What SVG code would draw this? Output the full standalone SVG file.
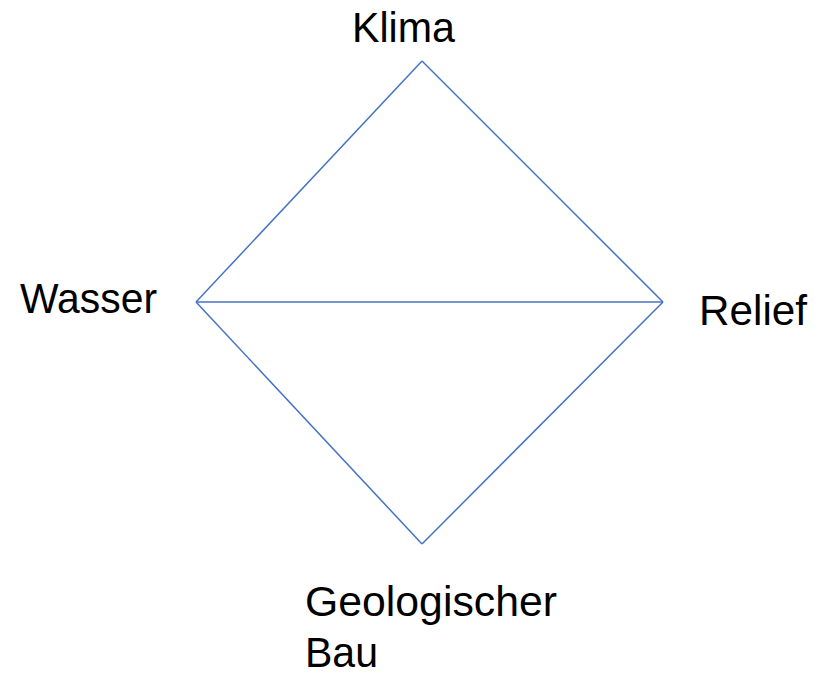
<svg xmlns="http://www.w3.org/2000/svg" width="825" height="677" viewBox="0 0 825 677">
  <style>
    .edge { stroke: #4472C4; stroke-width: 1.5; fill: none; }
    .label { font-family: "Liberation Sans", "Noto Sans", sans-serif; font-size: 43px; fill: #000000; }
  </style>
  <rect width="825" height="677" fill="#ffffff"/>
  <g id="connectors">
    <line class="edge" x1="422" y1="61" x2="196" y2="302"/>
    <line class="edge" x1="422" y1="61" x2="663" y2="302"/>
    <line class="edge" x1="196" y1="302" x2="663" y2="302"/>
    <line class="edge" x1="196" y1="302" x2="422" y2="544"/>
    <line class="edge" x1="663" y1="302" x2="422" y2="544"/>
  </g>
  <g id="klima">
    <text class="label" x="352" y="42" textLength="103" lengthAdjust="spacingAndGlyphs">Klima</text>
  </g>
  <g id="wasser">
    <text class="label" x="20" y="313" textLength="137" lengthAdjust="spacingAndGlyphs">Wasser</text>
  </g>
  <g id="relief">
    <text class="label" x="699" y="325" textLength="108" lengthAdjust="spacingAndGlyphs">Relief</text>
  </g>
  <g id="geologischer-bau">
    <text class="label" x="305" y="616" textLength="252" lengthAdjust="spacingAndGlyphs">Geologischer</text>
    <text class="label" x="305" y="667" textLength="73" lengthAdjust="spacingAndGlyphs">Bau</text>
  </g>
</svg>
